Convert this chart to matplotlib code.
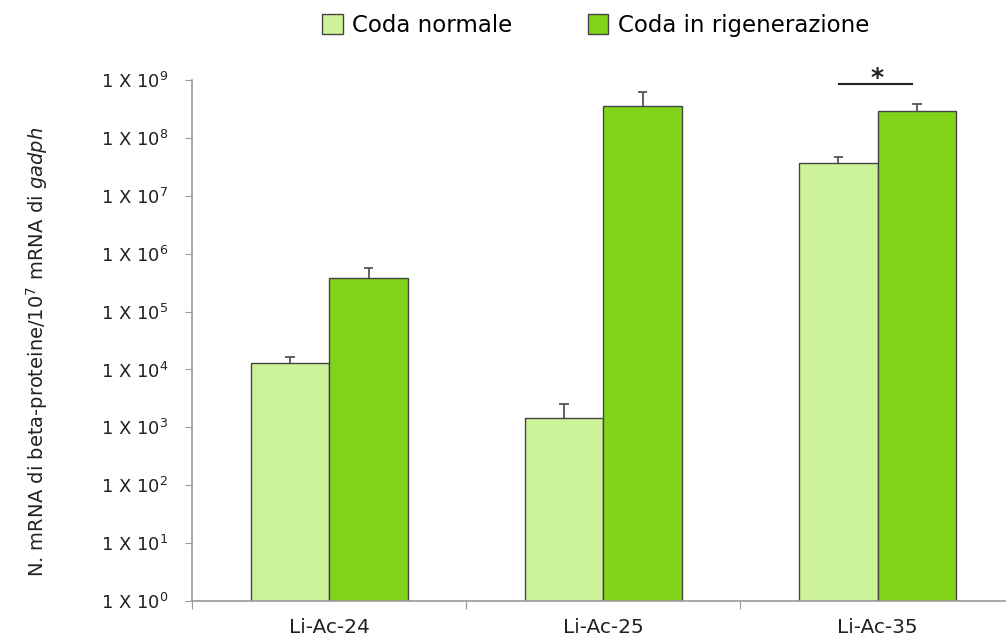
import numpy as np
import matplotlib
matplotlib.use('Agg')
import matplotlib.pyplot as plt
from matplotlib.ticker import FixedLocator, FixedFormatter, NullLocator

# data
categories = ['Li-Ac-24', 'Li-Ac-25', 'Li-Ac-35']
normale = [1.29e4, 1.43e3, 3.7e7]
normale_err = [0.33e4, 1.15e3, 1.0e7]
rigenerazione = [3.73e5, 3.6e8, 2.9e8]
rigenerazione_err = [1.9e5, 2.5e8, 0.9e8]
decades = list(range(0, 10))

light = '#CCF29A'
dark = '#82D41A'
edge = '#444444'


def upper_err(ax, xpos, vals, errs):
    tops = np.array(vals) + np.array(errs)
    ax.vlines(xpos, vals, tops, color='#555555', lw=1.3, zorder=1)
    ax.hlines(tops, xpos - 0.017, xpos + 0.017, color='#555555', lw=1.3, zorder=1)


def main():
    plt.rcParams['font.family'] = ['DejaVu Sans']
    fig = plt.figure(figsize=(10.06, 6.35), dpi=100)
    ax = fig.add_axes([0.191, 0.0535, 0.808, 0.8205])

    x = np.arange(len(categories))
    w = 0.287
    ax.bar(x - w / 2, normale, w, color=light, edgecolor=edge, linewidth=1,
           label='Coda normale', zorder=2)
    ax.bar(x + w / 2, rigenerazione, w, color=dark, edgecolor=edge, linewidth=1,
           label='Coda in rigenerazione', zorder=2)
    upper_err(ax, x - w / 2, normale, normale_err)
    upper_err(ax, x + w / 2, rigenerazione, rigenerazione_err)

    ax.set_yscale('log')
    ax.set_ylim(1, 1e9)
    ax.set_xlim(-0.5, 2.465)
    ax.yaxis.set_major_locator(FixedLocator([10.0 ** d for d in decades]))
    ax.yaxis.set_major_formatter(FixedFormatter([r'1 X 10$^{%d}$' % d for d in decades]))
    ax.yaxis.set_minor_locator(NullLocator())
    ax.tick_params(axis='y', labelsize=13, length=5, color='#999999', pad=12,
                   labelcolor='#222222')

    ax.xaxis.set_major_locator(FixedLocator([-0.5, 0.5, 1.5]))
    ax.xaxis.set_major_formatter(FixedFormatter(['', '', '']))
    ax.xaxis.set_minor_locator(FixedLocator(x))
    ax.xaxis.set_minor_formatter(FixedFormatter(categories))
    ax.tick_params(axis='x', which='major', length=6, color='#999999')
    ax.tick_params(axis='x', which='minor', length=0, labelsize=14.5, pad=12,
                   labelcolor='#222222')

    for s in ['top', 'right']:
        ax.spines[s].set_visible(False)
    for s in ['left', 'bottom']:
        ax.spines[s].set_color('#999999')
        ax.spines[s].set_linewidth(1.2)

    # significance marker
    ax.plot([1.858, 2.124], [8.5e8, 8.5e8], color='#222222', lw=1.5, clip_on=False)
    ax.text(2.0, 1.08e9, '*', ha='center', va='center', fontsize=18,
            fontweight='bold', color='#222222')

    ax.set_ylabel(r'N. mRNA di beta-proteine/10$^{7}$ mRNA di $\it{gadph}$',
                  fontsize=14, color='#222222')
    ax.yaxis.set_label_coords(-0.175, 0.478)

    fig.legend(loc='center', bbox_to_anchor=(0.592, 0.96), ncol=2, frameon=False,
               fontsize=16.5, handlelength=0.9, handleheight=0.9, handletextpad=0.4,
               columnspacing=3.3)

    fig.savefig('out.png', dpi=100)


if __name__ == '__main__':
    main()
